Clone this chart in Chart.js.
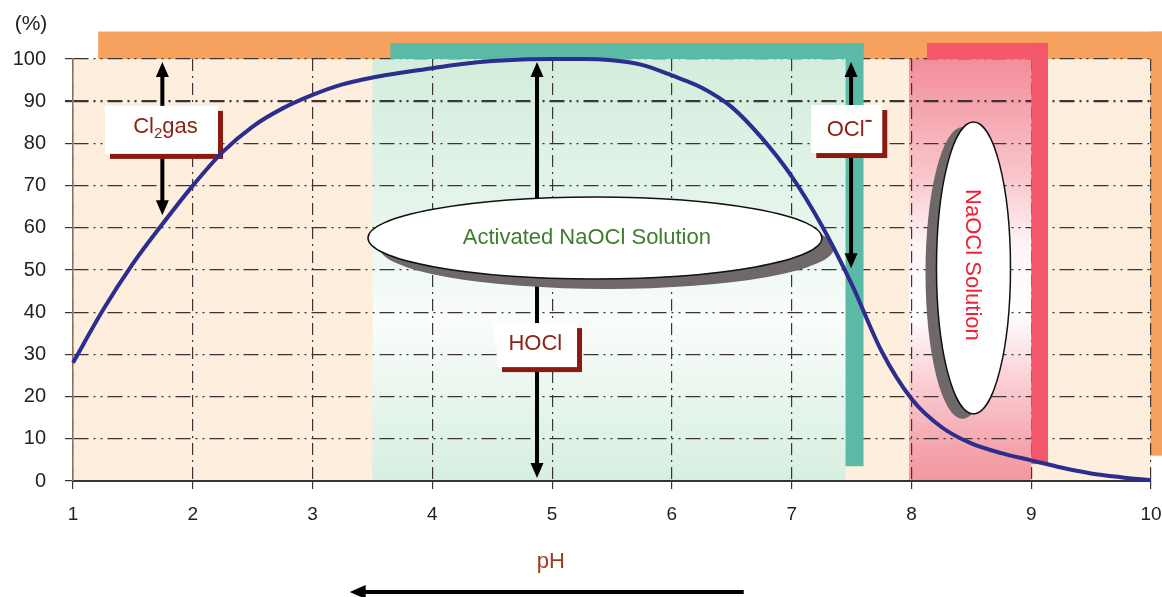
<!DOCTYPE html>
<html>
<head>
<meta charset="utf-8">
<script src="https://cdn.jsdelivr.net/npm/chart.js@4.4.1/dist/chart.umd.min.js"></script>
<style>
  html, body { margin: 0; padding: 0; background: #fff; }
  canvas { display: block; }
</style>
</head>
<body>
<canvas id="chlorChart" width="1162" height="597"></canvas>
<script>
// pH on the x axis, share of HOCl in % on the y axis
const phValues    = [1.0, 1.25, 1.5, 1.75, 2.0, 2.25, 2.5, 2.75, 3.0, 3.25, 3.5, 3.75, 4.0, 4.25, 4.5, 4.75, 5.0, 5.25, 5.5, 5.75, 6.0, 6.25, 6.5, 6.75, 7.0, 7.25, 7.5, 7.75, 8.0, 8.25, 8.5, 8.75, 9.0, 9.25, 9.5, 9.75, 10.0];
const hoclPercent = [28, 40.5, 51.5, 61, 70, 78, 84, 88.3, 91.5, 94, 95.6, 96.8, 97.8, 98.8, 99.5, 99.9, 100, 100, 99.7, 98.6, 96.1, 93.2, 88.6, 81.3, 72.2, 60.6, 46.7, 30.8, 19.5, 12.8, 8.9, 6.6, 4.9, 3.2, 1.8, 0.9, 0.2];

const phTicks      = [1, 2, 3, 4, 5, 6, 7, 8, 9, 10];
const percentTicks = [0, 10, 20, 30, 40, 50, 60, 70, 80, 90, 100];

const FONT = '"Liberation Sans", Arial, sans-serif';
const LABEL_RED = '#8b2416';
const GRID = '#3d3535';

function arrowV(ctx, x, yTop, yBottom) {
  ctx.save();
  ctx.strokeStyle = '#000';
  ctx.fillStyle = '#000';
  ctx.lineWidth = 4;
  ctx.beginPath();
  ctx.moveTo(x, yTop + 12);
  ctx.lineTo(x, yBottom - 12);
  ctx.stroke();
  ctx.beginPath();
  ctx.moveTo(x, yTop);
  ctx.lineTo(x - 6.5, yTop + 15);
  ctx.lineTo(x + 6.5, yTop + 15);
  ctx.closePath();
  ctx.fill();
  ctx.beginPath();
  ctx.moveTo(x, yBottom);
  ctx.lineTo(x - 6.5, yBottom - 15);
  ctx.lineTo(x + 6.5, yBottom - 15);
  ctx.closePath();
  ctx.fill();
  ctx.restore();
}

function labelBox(ctx, cx, cy, w, h) {
  ctx.fillStyle = '#8a1b0e';
  ctx.fillRect(cx - w / 2 + 5, cy - h / 2 + 5, w, h);
  ctx.fillStyle = '#fff';
  ctx.fillRect(cx - w / 2, cy - h / 2, w, h);
}

function bubble(ctx, cx, cy, rx, ry, dx, dy) {
  ctx.save();
  ctx.fillStyle = '#6e6868';
  ctx.beginPath();
  ctx.ellipse(cx + dx, cy + dy, rx, ry, 0, 0, Math.PI * 2);
  ctx.fill();
  ctx.fillStyle = '#fff';
  ctx.beginPath();
  ctx.ellipse(cx, cy, rx, ry, 0, 0, Math.PI * 2);
  ctx.fill();
  ctx.strokeStyle = '#111';
  ctx.lineWidth = 1.5;
  ctx.stroke();
  ctx.restore();
}

// coloured zones behind the grid
const backgroundZones = {
  id: 'backgroundZones',
  beforeDraw(chart) {
    const { ctx } = chart;
    const X = v => chart.scales.x.getPixelForValue(v);
    const Y = v => chart.scales.y.getPixelForValue(v);
    ctx.save();

    ctx.fillStyle = '#fdeedd';
    ctx.fillRect(X(1), Y(100), X(10) - X(1), Y(0) - Y(100));

    // orange frame top + right
    ctx.fillStyle = '#f6a25e';
    ctx.fillRect(X(1.21), Y(106.5), X(10.1) - X(1.21), Y(100) - Y(106.5));
    ctx.fillRect(X(9.995), Y(106.5), X(10.1) - X(9.995), Y(6) - Y(106.5));

    // HOCl zone, green
    let g = ctx.createLinearGradient(0, Y(100), 0, Y(0));
    g.addColorStop(0, '#d3eddc');
    g.addColorStop(0.42, '#e8f6ee');
    g.addColorStop(0.62, '#fafdfb');
    g.addColorStop(0.82, '#e6f5ec');
    g.addColorStop(1, '#d6efe1');
    ctx.fillStyle = g;
    ctx.fillRect(X(3.5), Y(100), X(7.45) - X(3.5), Y(0) - Y(100));

    // NaOCl zone, pink
    g = ctx.createLinearGradient(0, Y(100), 0, Y(0));
    g.addColorStop(0, '#f38d9a');
    g.addColorStop(0.28, '#f9c6cc');
    g.addColorStop(0.44, '#fff4f5');
    g.addColorStop(0.6, '#ffffff');
    g.addColorStop(0.76, '#fad0d5');
    g.addColorStop(0.92, '#f5a4ad');
    g.addColorStop(1, '#f3979f');
    ctx.fillStyle = g;
    ctx.fillRect(X(7.98), Y(100), X(9) - X(7.98), Y(0) - Y(100));

    ctx.restore();
  }
};

// bars, arrows, boxes and bubbles: over the grid, under the curve
const annotations = {
  id: 'annotations',
  beforeDatasetsDraw(chart) {
    const { ctx } = chart;
    const X = v => chart.scales.x.getPixelForValue(v);
    const Y = v => chart.scales.y.getPixelForValue(v);
    ctx.save();

    // teal bracket
    ctx.fillStyle = '#5bbaa6';
    ctx.fillRect(X(3.65), Y(103.8), X(7.6) - X(3.65), Y(100) - Y(103.8));
    ctx.fillRect(X(7.45), Y(103.8), X(7.6) - X(7.45), Y(3.5) - Y(103.8));

    // red bracket
    ctx.fillStyle = '#f4586c';
    ctx.fillRect(X(8.13), Y(103.8), X(9.14) - X(8.13), Y(100) - Y(103.8));
    ctx.fillRect(X(9.0), Y(103.8), X(9.14) - X(9.0), Y(4) - Y(103.8));

    arrowV(ctx, X(1.746), Y(99.3), Y(63));
    arrowV(ctx, X(4.874), Y(99.3), Y(0.7));
    arrowV(ctx, X(7.496), Y(99.3), Y(50.4));

    ctx.textBaseline = 'middle';
    ctx.textAlign = 'left';

    // Cl2gas
    labelBox(ctx, X(1.739), Y(83.2), 113, 48);
    ctx.fillStyle = LABEL_RED;
    ctx.font = '22px ' + FONT;
    const wCl = ctx.measureText('Cl').width;
    ctx.font = '15px ' + FONT;
    const w2 = ctx.measureText('2').width;
    ctx.font = '22px ' + FONT;
    const wGas = ctx.measureText('gas').width;
    let x0 = X(1.772) - (wCl + w2 + wGas) / 2;
    const yc = Y(84);
    ctx.fillText('Cl', x0, yc);
    ctx.font = '15px ' + FONT;
    ctx.fillText('2', x0 + wCl, yc + 7);
    ctx.font = '22px ' + FONT;
    ctx.fillText('gas', x0 + wCl + w2, yc);

    // OCl-
    labelBox(ctx, X(7.46), Y(83.4), 71, 48);
    ctx.fillStyle = LABEL_RED;
    ctx.font = '22px ' + FONT;
    const wOcl = ctx.measureText('OCl').width;
    x0 = X(7.48) - (wOcl + 7) / 2;
    ctx.fillText('OCl', x0, Y(83.2));
    ctx.fillRect(x0 + wOcl + 1, Y(83.2) - 10, 6, 2);

    // HOCl
    ctx.fillStyle = '#fff';
    ctx.fillRect(X(4.52), Y(39), X(4.874) - 40 - X(4.52), 30);
    labelBox(ctx, X(4.874), Y(32.2), 80, 44);
    ctx.fillStyle = LABEL_RED;
    ctx.font = '22px ' + FONT;
    ctx.textAlign = 'center';
    ctx.fillText('HOCl', X(4.86), Y(32.4));

    // activated solution bubble
    bubble(ctx, X(5.358), Y(57.6), 227, 41, 12, 10);
    ctx.fillStyle = '#3f7d2e';
    ctx.font = '22px ' + FONT;
    ctx.fillText('Activated NaOCl Solution', X(5.29), Y(57.6));

    // NaOCl solution bubble
    bubble(ctx, X(8.518), Y(50.5), 37, 146, -11, 5);
    ctx.save();
    ctx.translate(X(8.51), Y(51.2));
    ctx.rotate(Math.PI / 2);
    ctx.fillStyle = '#f02035';
    ctx.font = '22px ' + FONT;
    ctx.fillText('NaOCl Solution', 0, 0);
    ctx.restore();

    ctx.restore();
  },
  afterDraw(chart) {
    const { ctx } = chart;
    const X = v => chart.scales.x.getPixelForValue(v);
    ctx.save();
    ctx.textBaseline = 'middle';
    ctx.textAlign = 'center';
    ctx.fillStyle = '#222';
    ctx.font = '21px ' + FONT;
    ctx.fillText('(%)', 31, 24);

    ctx.fillStyle = '#9c3b1f';
    ctx.font = '22px ' + FONT;
    ctx.fillText('pH', X(4.99), 562);

    // direction arrow under the axis
    ctx.strokeStyle = '#000';
    ctx.fillStyle = '#000';
    ctx.lineWidth = 4;
    ctx.beginPath();
    ctx.moveTo(X(6.6), 592);
    ctx.lineTo(X(3.31) + 12, 592);
    ctx.stroke();
    ctx.beginPath();
    ctx.moveTo(X(3.31), 592);
    ctx.lineTo(X(3.31) + 16, 585);
    ctx.lineTo(X(3.31) + 16, 599);
    ctx.closePath();
    ctx.fill();
    ctx.restore();
  }
};

const ctx = document.getElementById('chlorChart').getContext('2d');
new Chart(ctx, {
  type: 'line',
  data: {
    datasets: [{
      data: phValues.map((ph, i) => ({ x: ph, y: hoclPercent[i] })),
      borderColor: '#2b2e8f',
      borderWidth: 4,
      pointRadius: 0,
      fill: false,
      cubicInterpolationMode: 'monotone',
      clip: 6
    }]
  },
  options: {
    responsive: false,
    animation: false,
    events: [],
    layout: { padding: { top: 59, right: 11, left: 0, bottom: 0 } },
    plugins: {
      legend: { display: false },
      tooltip: { enabled: false }
    },
    scales: {
      x: {
        type: 'linear',
        min: 1,
        max: 10,
        afterBuildTicks: s => { s.ticks = phTicks.map(v => ({ value: v })); },
        afterFit: s => {
          s.height = 116;
          // keep the plot edge at pH 10 where the picture has it
          s.paddingLeft = 0;
          s.paddingRight = 0;
        },
        ticks: {
          color: '#222',
          font: { family: FONT, size: 19 },
          padding: 14,
          maxRotation: 0
        },
        grid: {
          color: GRID,
          lineWidth: 1.2,
          tickLength: 8,
          tickColor: GRID
        },
        border: { color: '#3a3636', width: 2, dash: [12, 5, 2, 5] }
      },
      y: {
        min: 0,
        max: 100,
        afterBuildTicks: s => { s.ticks = percentTicks.map(v => ({ value: v })); },
        afterFit: s => {
          s.width = 73;
          s.paddingTop = 0;
          s.paddingBottom = 0;
        },
        ticks: {
          color: '#222',
          font: { family: FONT, size: 20 },
          padding: 19
        },
        grid: {
          color: GRID,
          lineWidth: c => (c.tick && c.tick.value === 90 ? 2.2 : 1.2),
          tickLength: 8,
          tickColor: GRID
        },
        border: { color: '#8c6d60', width: 1.5, dash: [15, 5, 2, 5, 2, 5] }
      }
    }
  },
  plugins: [backgroundZones, annotations]
});
</script>
</body>
</html>
